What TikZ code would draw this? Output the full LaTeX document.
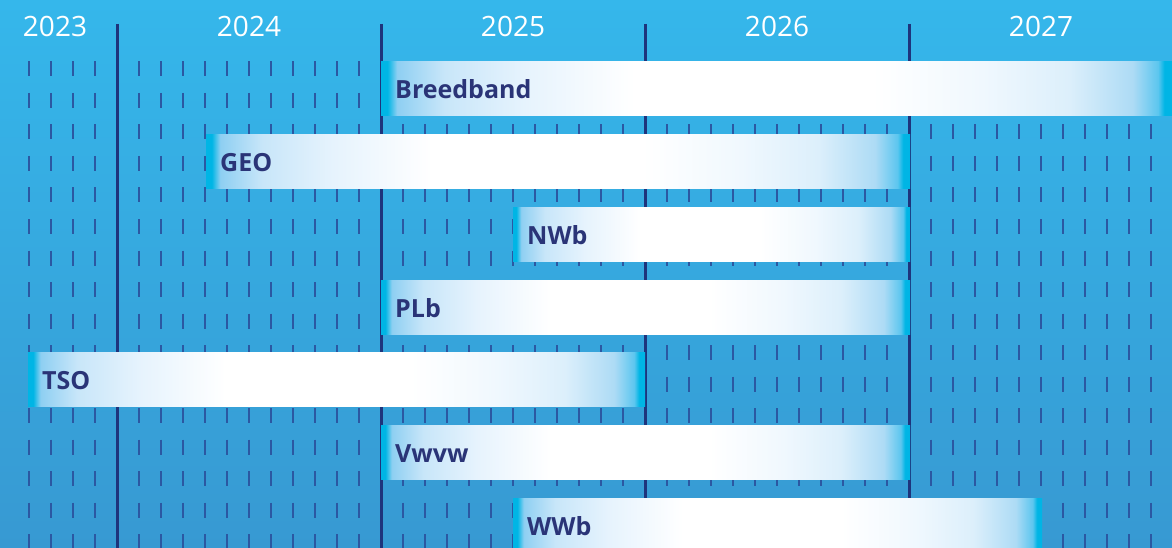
\documentclass[tikz,border=0pt]{standalone}
\usepackage{fontspec}
\setmainfont{Open Sans}
\definecolor{bgtop}{HTML}{35B7EB}
\definecolor{bgbot}{HTML}{3799D2}
\definecolor{edgec}{HTML}{00B5E5}
\definecolor{navy}{HTML}{2A3477}
\definecolor{divc}{HTML}{1E347C}
\definecolor{tickc}{HTML}{2B58A2}
\definecolor{fa}{HTML}{8ECFF2}
\definecolor{fb}{HTML}{C8E6F9}
\definecolor{fc}{HTML}{E6F3FD}
\definecolor{fd}{HTML}{F0F8FE}
\definecolor{fe}{HTML}{DCEFFB}
\definecolor{ff}{HTML}{ADDBF5}
\definecolor{fg}{HTML}{5CC6EF}
\pgfdeclarehorizontalshading{barfade}{100bp}{%
  color(0bp)=(edgec); color(25bp)=(edgec); color(25.4bp)=(edgec);
  color(26bp)=(fa); color(29bp)=(fb); color(34bp)=(fc);
  color(41bp)=(white); color(56bp)=(white); color(63bp)=(fd);
  color(68.5bp)=(fe); color(72.5bp)=(ff); color(74.1bp)=(fg);
  color(74.5bp)=(edgec); color(75bp)=(edgec); color(100bp)=(edgec)}
\tikzset{
  bar/.style={minimum height=54pt, inner sep=0pt, shading=barfade, anchor=north west, draw=none},
  lbl/.style={font=\bfseries\fontsize{25}{30}\selectfont, text=navy, inner sep=0pt,
              text height=18pt, text depth=0pt, anchor=west},
  yearlbl/.style={font=\fontsize{28}{32}\selectfont, text=white, inner sep=0pt,
              text height=20pt, text depth=0pt},
  divline/.style={draw=divc, line width=3pt},
  tickline/.style={draw=tickc, line width=2pt}
}
\begin{document}
\begin{tikzpicture}[x=1pt,y=-1pt]
\useasboundingbox (0,0) rectangle (1172,548);
\clip (0,0) rectangle (1172,548);
\shade[top color=bgtop, bottom color=bgbot] (0,0) rectangle (1172,548);
% ticks
\foreach \tx in {29,51,73,95,
  139,161,183,205,227,249,271,293,315,337,359,
  403,425,447,469,491,513,535,557,579,601,623,
  667,689,711,733,755,777,799,821,843,865,887,
  931,953,975,997,1019,1041,1063,1085,1107,1129,1151}{
  \foreach \j in {0,...,15}{
    \draw[tickline] (\tx,{61.5+31.5*\j}) -- (\tx,{76.5+31.5*\j});
  }
}
% year dividers
\foreach \dx/\nm in {117/a,381/b,645/c,909/d}{
  \coordinate (dt\nm) at (\dx,24);
  \coordinate (db\nm) at (\dx,548);
  \draw[divline] (dt\nm) -- (db\nm);
}
% year labels
\node[yearlbl] (y2023) at (55,27) {2023};
\node[yearlbl] (y2024) at (249,27) {2024};
\node[yearlbl] (y2025) at (513,27) {2025};
\node[yearlbl] (y2026) at (777,27) {2026};
\node[yearlbl] (y2027) at (1041,27) {2027};
% bars
\node[bar, minimum width=791pt] (breed) at (381,61) {};
\node[bar, minimum width=704pt] (geo) at (206,134) {};
\node[bar, minimum width=397pt] (nwb) at (513,207) {};
\node[bar, minimum width=529pt] (plb) at (381,280) {};
\node[bar, minimum width=617pt] (tso) at (28,352) {};
\node[bar, minimum width=529pt] (vwvw) at (381,425) {};
\node[bar, minimum width=529pt] (wwb) at (513,498) {};
% labels
\foreach \b/\t in {breed/Breedband, geo/GEO, nwb/NWb, plb/PLb, tso/TSO, vwvw/Vwvw, wwb/WWb}{
  \node[lbl] (\b L) at ([xshift=14pt,yshift=-1pt]\b.west) {\t};
}
\end{tikzpicture}
\end{document}
